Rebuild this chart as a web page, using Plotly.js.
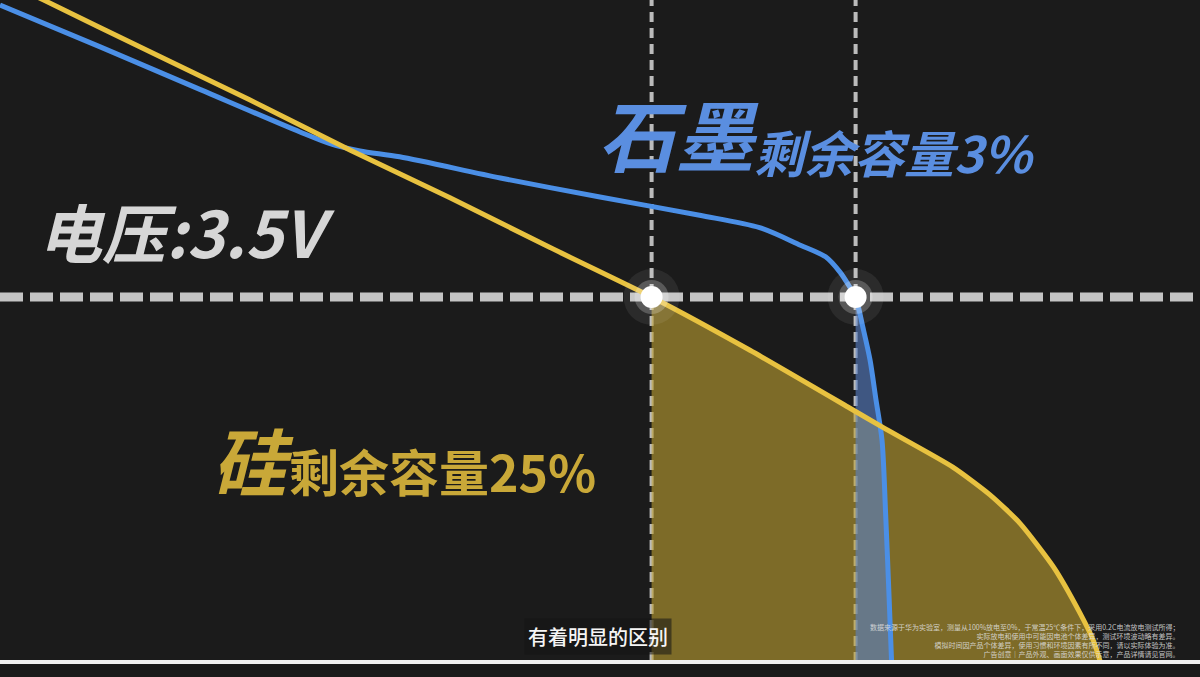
<!DOCTYPE html>
<html>
<head>
<meta charset="utf-8">
<script src="https://cdn.plot.ly/plotly-3.0.1.min.js"></script>
<style>
html,body{margin:0;padding:0;background:#1b1b1b;overflow:hidden;}
#chart{width:1200px;height:677px;}
</style>
</head>
<body>
<div id="chart"></div>
<script>
// Silicon (硅) discharge curve: capacity discharged (%), voltage (V)
const siliconCapacity = [0, 3.6, 12.5, 20.8, 29.2, 37.5, 45.8, 54.3, 62.5, 70.8, 73.5, 79.4, 82.5, 85.0, 87.8, 90.0, 91.1, 91.7];
const siliconVoltage  = [3.936, 3.907, 3.836, 3.770, 3.701, 3.636, 3.568, 3.500, 3.427, 3.348, 3.322, 3.267, 3.229, 3.190, 3.130, 3.067, 3.030, 3.000];
// Graphite (石墨) discharge curve
const graphiteCapacity = [0, 8.3, 16.7, 25.0, 27.5, 30.0, 33.3, 41.7, 50.0, 58.3, 63.3, 66.7, 68.8, 70.0, 70.8, 71.3, 71.9, 72.5, 73.0, 73.5, 73.8, 74.1, 74.3];
const graphiteVoltage  = [3.900, 3.843, 3.784, 3.726, 3.710, 3.700, 3.692, 3.663, 3.637, 3.612, 3.595, 3.571, 3.555, 3.534, 3.514, 3.500, 3.459, 3.414, 3.359, 3.304, 3.204, 3.085, 3.000];
// Reference levels
const cutoffVoltage = 3.5;
const baseVoltage = 3.0;
// Labels
const voltageLabel = "电压:3.5V";
const graphiteName = "石墨", graphiteRemain = "剩余容量3%";
const siliconName = "硅", siliconRemain = "剩余容量25%";
const subtitle = "有着明显的区别";
const disclaimer = [
  "数据来源于华为实验室，测量从100%放电至0%，于常温25℃条件下，采用0.2C电流放电测试所得；",
  "实际放电和使用中可能因电池个体差异，测试环境波动略有差异。",
  "模拟时间因产品个体差异，使用习惯和环境因素有所不同，请以实际体验为准。",
  "广告创意｜产品外观、画面效果仅供示意，产品详情请见官网。"
];

const YMIN = 2.9795, YMAX = 3.9068;
const CJK = '"Noto Sans CJK SC", "Noto Sans", sans-serif';

function crossing(xs, ys, v) {
  for (let i = 1; i < xs.length; i++) {
    if ((ys[i-1] - v) * (ys[i] - v) <= 0 && ys[i-1] !== ys[i]) {
      const t = (ys[i-1] - v) / (ys[i-1] - ys[i]);
      return {x: xs[i-1] + t * (xs[i] - xs[i-1]), i: i};
    }
  }
  return null;
}
function areaPolygon(xs, ys, v) {
  const c = crossing(xs, ys, v);
  const px = [c.x], py = [v];
  for (let i = c.i; i < xs.length; i++) { if (xs[i] > c.x) { px.push(xs[i]); py.push(ys[i]); } }
  px.push(xs[xs.length-1], c.x, c.x); py.push(baseVoltage, baseVoltage, v);
  return {x: px, y: py, cx: c.x};
}

const siArea = areaPolygon(siliconCapacity, siliconVoltage, cutoffVoltage);
const grArea = areaPolygon(graphiteCapacity, graphiteVoltage, cutoffVoltage);

const traces = [
  {x: siArea.x, y: siArea.y, type: 'scatter', mode: 'lines', fill: 'toself',
   fillcolor: 'rgba(192,162,50,0.60)', line: {width: 0}, hoverinfo: 'skip'},
  {x: grArea.x, y: grArea.y, type: 'scatter', mode: 'lines', fill: 'toself',
   fillcolor: 'rgba(88,128,200,0.60)', line: {width: 0}, hoverinfo: 'skip'},
  {x: graphiteCapacity, y: graphiteVoltage, type: 'scatter', mode: 'lines',
   line: {color: '#4b8fe6', width: 5, shape: 'spline', smoothing: 0.8}},
  {x: siliconCapacity, y: siliconVoltage, type: 'scatter', mode: 'lines',
   line: {color: '#e8c240', width: 5, shape: 'spline', smoothing: 0.6}},
  // glow dots
  {x: [siArea.cx, grArea.cx], y: [cutoffVoltage, cutoffVoltage], type: 'scatter', mode: 'markers',
   marker: {size: 56, color: 'rgba(255,255,255,0.07)', line: {width: 0}}},
  {x: [siArea.cx, grArea.cx], y: [cutoffVoltage, cutoffVoltage], type: 'scatter', mode: 'markers',
   marker: {size: 34, color: 'rgba(255,255,255,0.22)', line: {width: 0}}},
  {x: [siArea.cx, grArea.cx], y: [cutoffVoltage, cutoffVoltage], type: 'scatter', mode: 'markers',
   marker: {size: 22, color: '#ffffff', line: {width: 0}}}
];

const shapes = [
  {type: 'line', layer: 'below', xref: 'paper', x0: 0, x1: 1, yref: 'y', y0: cutoffVoltage, y1: cutoffVoltage,
   line: {color: 'rgba(205,205,205,0.95)', width: 9, dash: '23px,7px'}},
  {type: 'line', layer: 'below', xref: 'x', x0: siArea.cx, x1: siArea.cx, yref: 'y', y0: baseVoltage, y1: YMAX,
   line: {color: 'rgba(205,205,205,0.9)', width: 4, dash: '10px,6px'}},
  {type: 'line', layer: 'below', xref: 'x', x0: grArea.cx, x1: grArea.cx, yref: 'y', y0: baseVoltage, y1: YMAX,
   line: {color: 'rgba(205,205,205,0.9)', width: 4, dash: '10px,6px'}},
  {type: 'line', layer: 'above', xref: 'paper', x0: 0, x1: 1, yref: 'y', y0: baseVoltage, y1: baseVoltage,
   line: {color: '#f2f2f2', width: 4}}
];

function py(p) { return 1 - p / 677; }
function px(p) { return p / 1200; }

const annotations = [
  {text: voltageLabel, xref: 'paper', yref: 'paper', x: px(36), y: py(230), xanchor: 'left', yanchor: 'middle',
   showarrow: false, font: {family: CJK, size: 64, color: '#d6d6d6', weight: 700, style: 'italic'}},
  {text: graphiteName, xref: 'paper', yref: 'paper', x: px(596), y: py(132), xanchor: 'left', yanchor: 'middle',
   showarrow: false, font: {family: CJK, size: 78, color: '#5a8ee0', weight: 700, style: 'italic'}},
  {text: graphiteRemain, xref: 'paper', yref: 'paper', x: px(752), y: py(151), xanchor: 'left', yanchor: 'middle',
   showarrow: false, font: {family: CJK, size: 50, color: '#5a8ee0', weight: 700, style: 'italic'}},
  {text: siliconName, xref: 'paper', yref: 'paper', x: px(210), y: py(458), xanchor: 'left', yanchor: 'middle',
   showarrow: false, font: {family: CJK, size: 74, color: '#c9a838', weight: 700, style: 'italic'}},
  {text: siliconRemain, xref: 'paper', yref: 'paper', x: px(287), y: py(470), xanchor: 'left', yanchor: 'middle',
   showarrow: false, font: {family: CJK, size: 50, color: '#c9a838', weight: 700}},
  {text: subtitle, xref: 'paper', yref: 'paper', x: px(598), y: py(636), xanchor: 'center', yanchor: 'middle',
   showarrow: false, bgcolor: 'rgba(20,20,20,0.55)', borderpad: 3,
   font: {family: CJK, size: 20, color: '#f5f5f5', weight: 500}},
  {text: disclaimer.join('<br>'), xref: 'paper', yref: 'paper', x: px(1181), y: py(640), xanchor: 'right', yanchor: 'middle',
   align: 'right', showarrow: false, font: {family: CJK, size: 7, color: 'rgba(225,225,225,0.85)'}}
];

const layout = {
  width: 1200, height: 677,
  margin: {l: 0, r: 0, t: 0, b: 0},
  paper_bgcolor: '#1b1b1b', plot_bgcolor: '#1b1b1b',
  showlegend: false,
  xaxis: {range: [0, 100], visible: false, fixedrange: true},
  yaxis: {range: [YMIN, YMAX], visible: false, fixedrange: true},
  shapes: shapes,
  annotations: annotations
};

Plotly.newPlot('chart', traces, layout, {displayModeBar: false, staticPlot: true});
</script>
</body>
</html>
